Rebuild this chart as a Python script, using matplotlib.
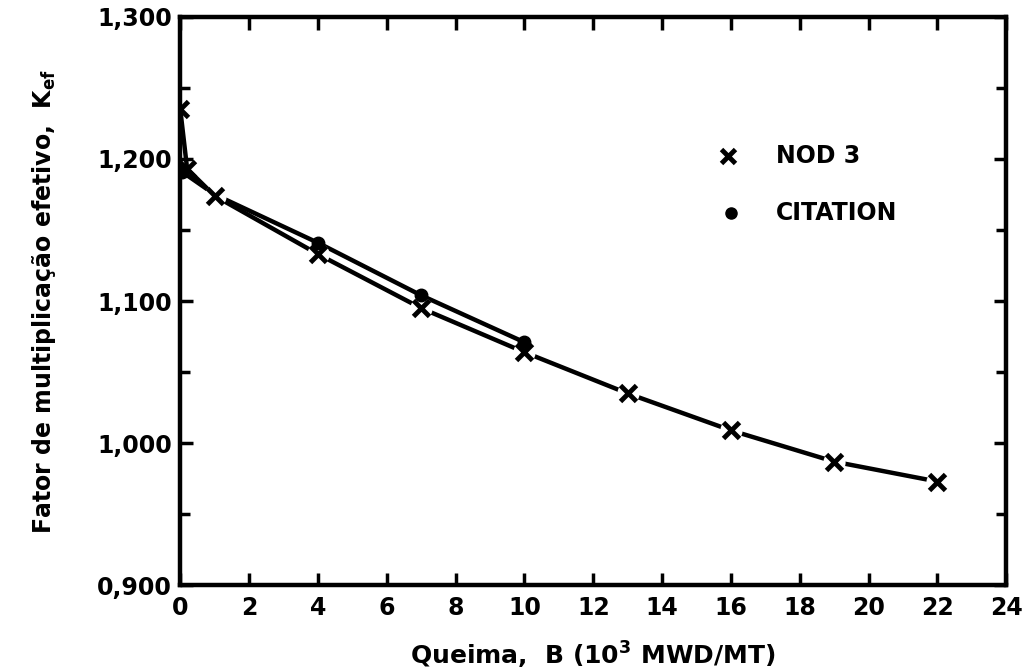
"""Fator de multiplicacao efetivo vs queima (NOD 3 x CITATION)."""

import matplotlib
matplotlib.use("Agg")
import matplotlib.pyplot as plt
from matplotlib.ticker import MultipleLocator, FuncFormatter

# NOD 3 (marker x)
nod3_burnup = [0.0, 0.2, 1, 4, 7, 10, 13, 16, 19, 22]
nod3_keff = [1.235, 1.193, 1.174, 1.133, 1.095, 1.064, 1.035, 1.009, 0.987, 0.973]

# CITATION (marker dot)
cit_burnup = [0.05, 1, 4, 7, 10]
cit_keff = [1.191, 1.175, 1.141, 1.104, 1.071]
cit_marked = [0, 2, 3, 4]

plt.rcParams["font.family"] = "DejaVu Sans"
plt.rcParams["font.weight"] = "bold"
plt.rcParams["mathtext.fontset"] = "dejavusans"

fig = plt.figure(figsize=(10.3, 6.72), dpi=100)
ax = fig.add_axes([0.175, 0.129, 0.802, 0.846])

# lines
ax.plot(nod3_burnup, nod3_keff, color="black", lw=3.2, solid_capstyle="round", zorder=2)
ax.plot(cit_burnup, cit_keff, color="black", lw=3.2, solid_capstyle="round", zorder=2)

# small white gaps where the x marks sit
ax.plot(nod3_burnup[2:], nod3_keff[2:], ls="none", marker="o", ms=16,
        mfc="white", mec="none", zorder=3)

ax.plot(nod3_burnup, nod3_keff, ls="none", marker="x", ms=11, mew=3.5,
        color="black", zorder=4)
ax.plot([cit_burnup[i] for i in cit_marked], [cit_keff[i] for i in cit_marked],
        ls="none", marker="o", ms=9, color="black", zorder=5)

# legend drawn by hand like the original
ax.plot([15.9], [1.202], ls="none", marker="x", ms=10, mew=3.5, color="black")
ax.text(17.3, 1.202, "NOD 3", fontsize=17, fontweight="bold", va="center")
ax.plot([16.0], [1.162], ls="none", marker="o", ms=8, color="black")
ax.text(17.3, 1.162, "CITATION", fontsize=17, fontweight="bold", va="center")

ax.set_xlim(0, 24)
ax.set_ylim(0.9, 1.3)

ax.xaxis.set_major_locator(MultipleLocator(2))
ax.yaxis.set_major_locator(MultipleLocator(0.1))
ax.yaxis.set_minor_locator(MultipleLocator(0.05))
ax.yaxis.set_major_formatter(FuncFormatter(lambda v, p: f"{v:.3f}".replace(".", ",")))

ax.tick_params(axis="both", which="both", direction="in", top=True, right=True,
               width=2.5, labelsize=17, color="black")
ax.tick_params(axis="both", which="major", length=9, pad=6)
ax.tick_params(axis="y", which="minor", length=7)
ax.tick_params(axis="x", which="major", pad=8)
for lab in ax.get_xticklabels() + ax.get_yticklabels():
    lab.set_fontweight("bold")

for sp in ax.spines.values():
    sp.set_linewidth(3.2)

ax.set_xlabel("Queima,  B (10$^\\mathbf{3}$ MWD/MT)", fontsize=18,
              fontweight="bold", labelpad=14)
ax.set_ylabel("Fator de multiplicação efetivo,  K$_\\mathbf{ef}$", fontsize=17,
              fontweight="bold", labelpad=28)

fig.savefig("out.png", dpi=100)
